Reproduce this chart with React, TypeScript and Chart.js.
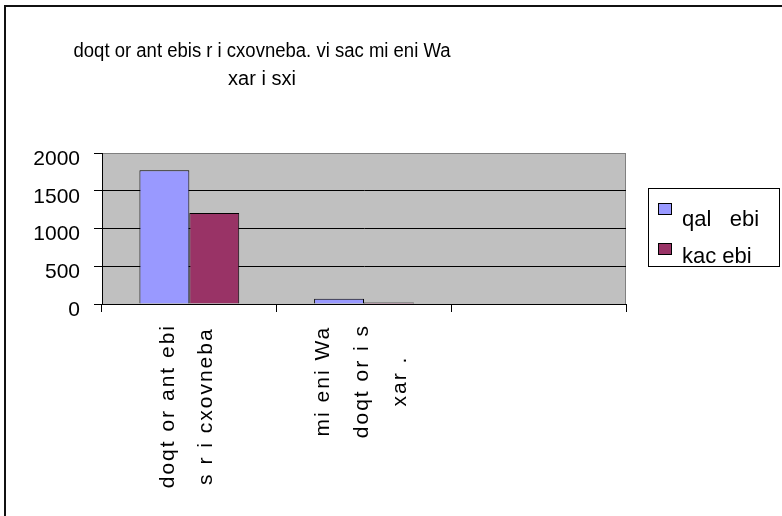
import React, { useEffect, useRef } from "react";
import { Chart, registerables } from "chart.js";

Chart.register(...registerables);

const titleLines = ["doqt or ant ebis r i cxovneba. vi sac mi eni Wa", "xar i sxi"];
const categoryLines = [
  ["doqt or ant ebi", "s r i cxovneba"],
  ["mi eni Wa", "doqt or i s", "xar ."],
  [],
];
const seriesNames = ["qal   ebi", "kac ebi"];
const seriesColors = ["#9999FF", "#993366"];
const womenValues = [1770, 70, null];
const menValues = [1205, 20, null];
const yTicks = [0, 500, 1000, 1500, 2000];

const FONT = "'Liberation Sans', Arial, sans-serif";

const decorPlugin = {
  id: "decor",
  beforeDraw(chart: any) {
    const { ctx, chartArea: a } = chart;
    ctx.save();
    ctx.fillStyle = "#ffffff";
    ctx.fillRect(0, 0, chart.width, chart.height);
    ctx.fillStyle = "#111111";
    ctx.fillRect(4, 5, chart.width, 2);
    ctx.fillRect(4, 5, 2, chart.height);
    ctx.fillStyle = "#C0C0C0";
    ctx.fillRect(a.left, a.top, a.right - a.left, a.bottom - a.top);
    ctx.strokeStyle = "#808080";
    ctx.lineWidth = 1;
    ctx.strokeRect(a.left + 0.5, a.top + 0.5, a.right - a.left - 1, a.bottom - a.top);
    ctx.restore();
  },
  afterDraw(chart: any) {
    const { ctx } = chart;
    const xs = chart.scales.x;
    ctx.save();
    ctx.fillStyle = "#000";
    // title
    ctx.font = `20px ${FONT}`;
    ctx.textAlign = "center";
    ctx.textBaseline = "alphabetic";
    ctx.fillText(titleLines[0], 262, 57, 377);
    ctx.fillText(titleLines[1], 262, 85, 68);

    // category labels, rotated
    ctx.font = `21px ${FONT}`;
    try { (ctx as any).letterSpacing = "2px"; } catch (e) {}
    categoryLines.forEach((lines, i) => {
      if (!lines.length) return;
      const cx = xs.getPixelForValue(i);
      const maxW = Math.max(...lines.map((l) => ctx.measureText(l).width));
      const n = lines.length;
      lines.forEach((line, j) => {
        ctx.save();
        ctx.translate(cx + (j - (n - 1) / 2) * 38.5 - 2, 324 + maxW / 2);
        ctx.rotate(-Math.PI / 2);
        ctx.textAlign = "center";
        ctx.textBaseline = "middle";
        ctx.fillText(line, 0, 0);
        ctx.restore();
      });
    });

    // legend
    try { (ctx as any).letterSpacing = "0px"; } catch (e) {}
    ctx.lineWidth = 1;
    ctx.strokeStyle = "#000";
    ctx.strokeRect(648.5, 188.5, 131, 78);
    const swY = [203, 243];
    const txY = [226, 263];
    seriesNames.forEach((name, k) => {
      ctx.fillStyle = seriesColors[k];
      ctx.fillRect(658, swY[k], 14, 12);
      ctx.strokeRect(658.5, swY[k] + 0.5, 13, 11);
      ctx.fillStyle = "#000";
      ctx.font = `22px ${FONT}`;
      ctx.textAlign = "left";
      ctx.textBaseline = "alphabetic";
      ctx.fillText(name, 682, txY[k], name.length > 7 ? 84 : 76);
    });
    ctx.restore();
  },
};

export default function App() {
  const ref = useRef<HTMLCanvasElement | null>(null);
  useEffect(() => {
    if (!ref.current) return;
    const chart = new Chart(ref.current, {
      type: "bar",
      data: {
        labels: categoryLines.map((l) => l.join(" ")),
        datasets: [
          {
            label: seriesNames[0],
            data: womenValues,
            backgroundColor: seriesColors[0],
            borderColor: "#000",
            borderWidth: 1,
            categoryPercentage: 100 / 175,
            barPercentage: 1,
          },
          {
            label: seriesNames[1],
            data: menValues,
            backgroundColor: seriesColors[1],
            borderColor: "#000",
            borderWidth: 1,
            categoryPercentage: 100 / 175,
            barPercentage: 1,
          },
        ],
      },
      options: {
        responsive: false,
        animation: false,
        layout: { padding: { left: 0, top: 153, right: 156, bottom: 0 } },
        plugins: {
          legend: { display: false },
          title: { display: false },
          tooltip: { enabled: false },
        },
        scales: {
          x: {
            type: "category",
            offset: true,
            afterFit: (s: any) => { s.height = 212; },
            ticks: { display: false },
            grid: {
              offset: true,
              drawOnChartArea: false,
              drawTicks: true,
              tickLength: 8,
              tickColor: "#000",
              color: "#000",
            },
            border: { display: true, color: "#000", width: 1 },
          },
          y: {
            min: 0,
            max: 2000,
            afterFit: (s: any) => { s.width = 102; },
            afterBuildTicks: (s: any) => { s.ticks = yTicks.map((v) => ({ value: v })); },
            ticks: {
              color: "#000",
              padding: 14,
              labelOffset: 6,
              font: { family: FONT, size: 21 },
              callback: (v: any) => String(v),
            },
            grid: {
              color: (c: any) => (c.tick && c.tick.value === 2000 ? "#808080" : "#000"),
              tickColor: "#000",
              tickLength: 8,
              lineWidth: 1,
            },
            border: { display: true, color: "#000", width: 1 },
          },
        },
      },
      plugins: [decorPlugin],
    });
    return () => chart.destroy();
  }, []);
  return (
    <div style={{ position: "absolute", left: 0, top: 0, width: 782, height: 516 }}>
      <canvas ref={ref} width={782} height={516} />
    </div>
  );
}
